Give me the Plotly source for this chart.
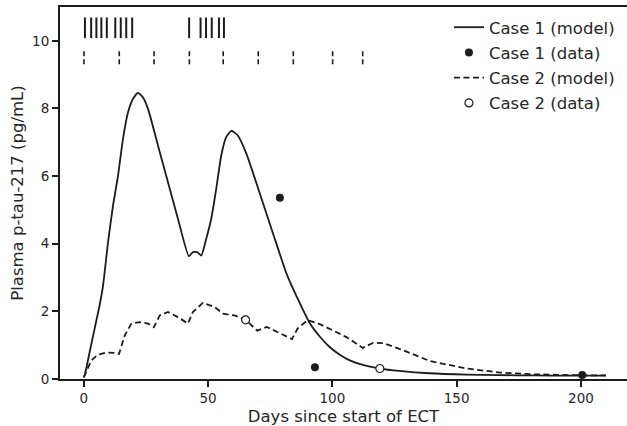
import plotly.graph_objects as go

# ---- data ----
case1_model_day = [0, 0.4, 2.4, 4.4, 6.4, 7.8, 9.8, 11.8, 13.8, 15.8, 17.8, 19.8, 21.8, 23.8, 25.9,
                   29.9, 33.9, 37.9, 42.3, 43.9, 45.6, 47.3, 49.3, 51.3, 53.3, 55.3, 57.3, 59.4,
                   62.0, 65.5, 70.9, 76.2, 81.6, 87.0, 91.0, 95.0, 99.0, 103.0, 107.0, 113.0, 119.1,
                   127.0, 139.0, 154.0, 167.0, 180.7, 195.0, 210.0]
case1_model_val = [0.05, 0.11, 0.80, 1.49, 2.18, 2.77, 4.05, 5.13, 6.01, 7.10, 7.88, 8.28, 8.46, 8.33, 7.98,
                   6.90, 5.82, 4.74, 3.63, 3.75, 3.75, 3.65, 4.15, 4.74, 5.62, 6.60, 7.15, 7.34,
                   7.20, 6.65, 5.47, 4.29, 3.11, 2.23, 1.64, 1.25, 0.94, 0.72, 0.55, 0.40, 0.31,
                   0.24, 0.17, 0.13, 0.115, 0.105, 0.10, 0.10]

case2_model_day = [0, 0.4, 3.1, 5.7, 9.1, 12.5, 14.2, 16.5, 19.2, 22.5, 25.9, 28.2, 30.6, 33.9, 37.9,
                   41.9, 43.9, 47.9, 52.6, 56.0, 60.7, 65.1, 69.8, 73.6, 78.9, 83.8, 86.0, 90.0,
                   95.0, 99.5, 105.7, 112.2, 116.4, 120.5, 128.5, 139.2, 154.0, 167.4, 180.7, 195.0, 210.0]
case2_model_val = [0.05, 0.11, 0.55, 0.72, 0.78, 0.77, 0.74, 1.29, 1.64, 1.68, 1.64, 1.53, 1.88, 1.98, 1.83,
                   1.64, 1.98, 2.25, 2.13, 1.93, 1.88, 1.75, 1.43, 1.54, 1.36, 1.18, 1.49, 1.74,
                   1.62, 1.47, 1.24, 0.92, 1.07, 1.06, 0.85, 0.53, 0.31, 0.19, 0.14, 0.115, 0.105]

case1_data_day = [78.9, 93.0, 200.5]
case1_data_val = [5.36, 0.35, 0.12]
case2_data_day = [65.1, 119.1]
case2_data_val = [1.75, 0.31]

case1_sessions = [0.5, 3.0, 5.1, 7.1, 9.3, 12.7, 14.9, 17.1, 19.5, 42.4, 47.0, 49.2, 51.5, 54.4, 56.4]
case2_sessions = [0.1, 14.3, 28.3, 42.5, 56.1, 70.2, 84.3, 100.1, 112.2]
case1_tick_span = [10.08, 10.69]
case2_tick_span = [9.31, 9.76]

x_ticks = [0, 50, 100, 150, 200]
y_ticks = [0, 2, 4, 6, 8, 10]

INK = "#1c1c1c"
TXT = "#262626"
FONT = "DejaVu Sans"


def seg(xs, span):
    xx, yy = [], []
    for x in xs:
        xx += [x, x, None]
        yy += [span[0], span[1], None]
    return xx, yy


fig = go.Figure()

sx, sy = seg(case1_sessions, case1_tick_span)
fig.add_trace(go.Scatter(x=sx, y=sy, mode="lines", line=dict(color=INK, width=2),
                         showlegend=False, hoverinfo="skip"))
sx, sy = seg(case2_sessions, case2_tick_span)
fig.add_trace(go.Scatter(x=sx, y=sy, mode="lines", line=dict(color=INK, width=1.6, dash="5px,3px"),
                         showlegend=False, hoverinfo="skip"))

fig.add_trace(go.Scatter(x=case1_model_day, y=case1_model_val, mode="lines", name="Case 1 (model)",
                         line=dict(color=INK, width=1.8, shape="spline", smoothing=0.5),
                         legendgroup="a"))
fig.add_trace(go.Scatter(x=case1_data_day, y=case1_data_val, mode="markers", name="Case 1 (data)",
                         marker=dict(color=INK, size=8, line=dict(width=0)), legendgroup="b"))
fig.add_trace(go.Scatter(x=case2_model_day, y=case2_model_val, mode="lines", name="Case 2 (model)",
                         line=dict(color=INK, width=1.8, dash="6px,3.5px"), legendgroup="c"))
fig.add_trace(go.Scatter(x=case2_data_day, y=case2_data_val, mode="markers", name="Case 2 (data)",
                         marker=dict(color="white", size=8, line=dict(color=INK, width=1.2)),
                         legendgroup="d"))

fig.update_layout(
    width=627, height=426,
    margin=dict(l=60, r=0, t=7, b=47, autoexpand=False),
    paper_bgcolor="white", plot_bgcolor="white",
    font=dict(family=FONT, color=TXT, size=13.5),
    showlegend=True,
    legend=dict(x=0.686, y=0.992, xanchor="left", yanchor="top",
                font=dict(family=FONT, size=16.5, color=TXT),
                bgcolor="rgba(0,0,0,0)", traceorder="grouped", tracegroupgap=0.8,
                itemwidth=30),
    xaxis=dict(range=[-9.53, 218.5], tickvals=x_ticks, ticks="outside", ticklen=6, tickwidth=1.5,
               tickcolor=INK, showline=True, linecolor=INK, linewidth=2, mirror=True,
               showgrid=False, zeroline=False, automargin=False,
               tickfont=dict(family=FONT, size=13.5, color=TXT),
               title=dict(text="Days since start of ECT", font=dict(family=FONT, size=16.5, color=TXT),
                          standoff=10)),
    yaxis=dict(range=[0, 11], tickvals=y_ticks, ticks="outside", ticklen=6, tickwidth=1.5,
               tickcolor=INK, showline=True, linecolor=INK, linewidth=2, mirror=False,
               showgrid=False, zeroline=False, automargin=False,
               tickfont=dict(family=FONT, size=13.5, color=TXT),
               title=dict(text="Plasma p-tau-217 (pg/mL)", font=dict(family=FONT, size=16.5, color=TXT),
                          standoff=4)),
)

fig.write_html("out.html", config={"displayModeBar": False},
               post_script="document.body.style.margin='0';document.body.style.overflow='hidden';")
